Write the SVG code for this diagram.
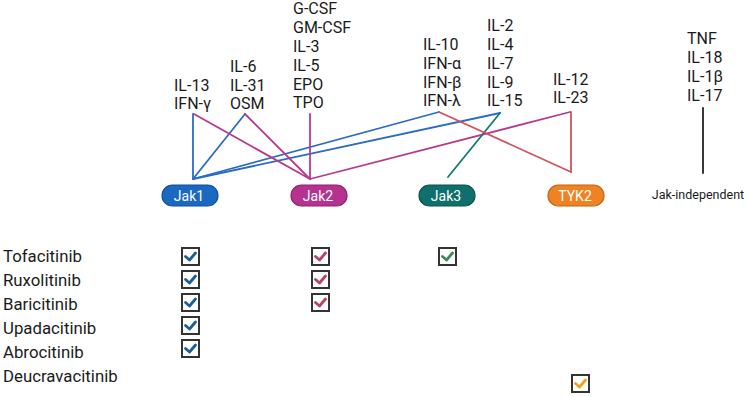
<svg xmlns="http://www.w3.org/2000/svg" width="747" height="397" viewBox="0 0 747 397">
<style>
.lbl{font-family:Roboto,"Liberation Sans",sans-serif;font-size:16px;fill:#1a1a1a}
.drug{font-family:Roboto,"Liberation Sans",sans-serif;font-size:16.8px;fill:#1a1a1a}
.pt{font-family:Roboto,"Liberation Sans",sans-serif;font-size:14px;fill:#ffffff;text-anchor:middle}
.sm{font-family:Roboto,"Liberation Sans",sans-serif;font-size:12.5px;fill:#1a1a1a;text-anchor:middle}
.ln{fill:none;stroke-width:1.8;stroke-linecap:round}
.blue{stroke:#2a6cc2}.mag{stroke:#b83a8f}.teal{stroke:#157a74}.red{stroke:#d2525c}.blk{stroke:#222}
.box{fill:#fff;stroke:#333;stroke-width:2}
.ck{fill:none;stroke-width:2.8;stroke-linecap:round;stroke-linejoin:round}
</style>
<defs>
<g id="cb-blue"><rect class="box" x="1" y="1" width="17" height="17"/><path class="ck" stroke="#1b5e96" d="M4.5,9.5 L8.5,13 L14.5,6"/></g>
<g id="cb-red"><rect class="box" x="1" y="1" width="17" height="17"/><path class="ck" stroke="#b8435e" d="M4.5,9.5 L8.5,13 L14.5,6"/></g>
<g id="cb-green"><rect class="box" x="1" y="1" width="17" height="17"/><path class="ck" stroke="#3f8a58" d="M4.5,9.5 L8.5,13 L14.5,6"/></g>
<g id="cb-orange"><rect class="box" x="1" y="1" width="17" height="17"/><path class="ck" stroke="#f0a020" d="M4.5,9.5 L8.5,13 L14.5,6"/></g>
</defs>

<g id="connectors">
<line class="ln blue" x1="193" y1="114" x2="193" y2="179"/>
<line class="ln blue" x1="245" y1="114" x2="193" y2="179"/>
<line class="ln blue" x1="439" y1="112" x2="193" y2="179"/>
<line class="ln blue" x1="500" y1="113" x2="193" y2="179"/>
<line class="ln mag" x1="194" y1="114" x2="310" y2="179"/>
<line class="ln mag" x1="245" y1="114" x2="310" y2="179"/>
<line class="ln mag" x1="310" y1="114" x2="310" y2="179"/>
<line class="ln mag" x1="570" y1="112" x2="310" y2="179"/>
<line class="ln teal" x1="500" y1="113" x2="448" y2="177"/>
<line class="ln red" x1="439" y1="112" x2="571" y2="172"/>
<line class="ln red" x1="571" y1="112" x2="571" y2="172"/>
<line class="ln blk" x1="703" y1="108" x2="703" y2="173"/>
</g>

<g id="cytokines-il13"><text class="lbl"><tspan x="174" y="91">IL-13</tspan><tspan x="174" y="109">IFN-γ</tspan></text></g>
<g id="cytokines-il6"><text class="lbl"><tspan x="230" y="72">IL-6</tspan><tspan x="230" y="91">IL-31</tspan><tspan x="230" y="109">OSM</tspan></text></g>
<g id="cytokines-gcsf"><text class="lbl"><tspan x="293" y="14">G-CSF</tspan><tspan x="293" y="33">GM-CSF</tspan><tspan x="293" y="52">IL-3</tspan><tspan x="293" y="71">IL-5</tspan><tspan x="293" y="90">EPO</tspan><tspan x="293" y="108">TPO</tspan></text></g>
<g id="cytokines-il10"><text class="lbl"><tspan x="423" y="50">IL-10</tspan><tspan x="423" y="69">IFN-α</tspan><tspan x="423" y="87.5">IFN-β</tspan><tspan x="423" y="106">IFN-λ</tspan></text></g>
<g id="cytokines-il2"><text class="lbl"><tspan x="487" y="31">IL-2</tspan><tspan x="487" y="50">IL-4</tspan><tspan x="487" y="69">IL-7</tspan><tspan x="487" y="87.5">IL-9</tspan><tspan x="487" y="106">IL-15</tspan></text></g>
<g id="cytokines-il12"><text class="lbl"><tspan x="553" y="85">IL-12</tspan><tspan x="553" y="103">IL-23</tspan></text></g>
<g id="cytokines-tnf"><text class="lbl"><tspan x="687" y="44">TNF</tspan><tspan x="687" y="63">IL-18</tspan><tspan x="687" y="82">IL-1β</tspan><tspan x="687" y="101">IL-17</tspan></text></g>

<g id="jak1"><rect x="162" y="185" width="56" height="21" rx="10.5" fill="#1b68c0" stroke="#0f4f98" stroke-width="1.2"/><text class="pt" x="189" y="200.5">Jak1</text></g>
<g id="jak2"><rect x="291" y="185" width="56" height="21" rx="10.5" fill="#b5338f" stroke="#8c2270" stroke-width="1.2"/><text class="pt" x="318" y="200.5">Jak2</text></g>
<g id="jak3"><rect x="419" y="185" width="56" height="21" rx="10.5" fill="#0f6f6c" stroke="#0a5250" stroke-width="1.2"/><text class="pt" x="446" y="200.5">Jak3</text></g>
<g id="tyk2"><rect x="548" y="185" width="56" height="21" rx="10.5" fill="#ef8222" stroke="#c4650f" stroke-width="1.2"/><text class="pt" x="575" y="200.5">TYK2</text></g>
<g id="jak-independent"><text class="sm" x="698" y="199">Jak-independent</text></g>

<g id="drugs">
<text class="drug" x="3" y="262">Tofacitinib</text>
<text class="drug" x="3" y="286">Ruxolitinib</text>
<text class="drug" x="3" y="310">Baricitinib</text>
<text class="drug" x="3" y="334">Upadacitinib</text>
<text class="drug" x="3" y="358">Abrocitinib</text>
<text class="drug" x="3" y="382">Deucravacitinib</text>
</g>

<g id="checks">
<use href="#cb-blue" x="181" y="247"/>
<use href="#cb-blue" x="181" y="270"/>
<use href="#cb-blue" x="181" y="293"/>
<use href="#cb-blue" x="181" y="316"/>
<use href="#cb-blue" x="181" y="339"/>
<use href="#cb-red" x="311" y="247"/>
<use href="#cb-red" x="311" y="270"/>
<use href="#cb-red" x="311" y="293"/>
<use href="#cb-green" x="438" y="247"/>
<use href="#cb-orange" x="571" y="374"/>
</g>
</svg>
